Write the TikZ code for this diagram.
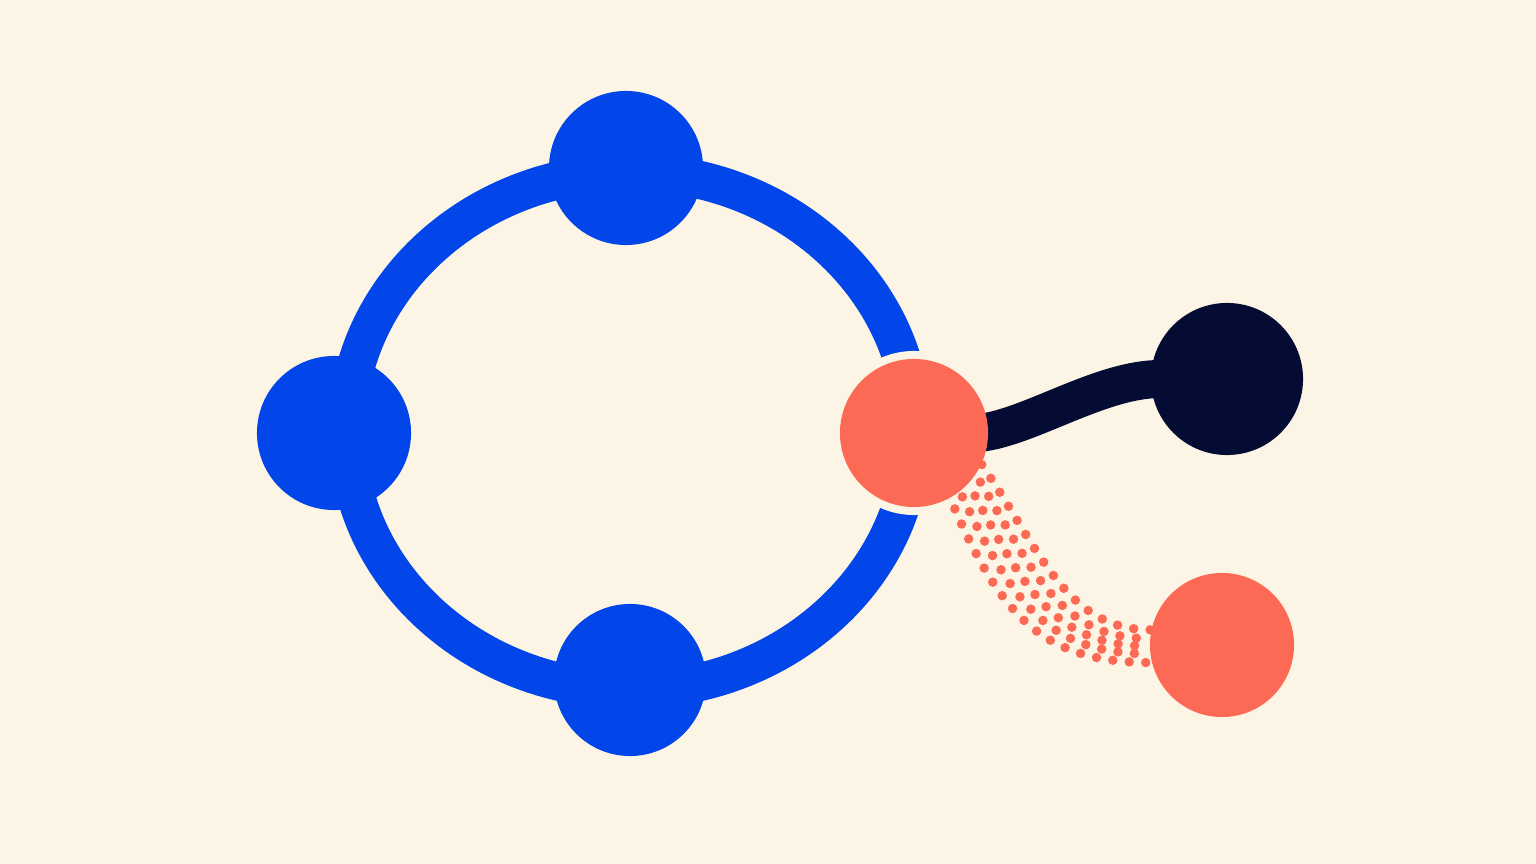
\documentclass[tikz,border=0pt]{standalone}
\usetikzlibrary{backgrounds}
\definecolor{paper}{RGB}{252,245,229}
\definecolor{ringblue}{RGB}{2,69,232}
\definecolor{coral}{RGB}{252,106,86}
\definecolor{ink}{RGB}{5,12,52}
\tikzset{
    bead/.style={circle,inner sep=0pt,minimum size=#1},
    spill/.style={coral,line width=0.095cm,line cap=round,dash pattern=on 0pt off 0.165cm}
}
\begin{document}
\begin{tikzpicture}[x=0.01cm,y=-0.01cm]
    % Beads
    \node[bead=1.54cm,fill=ringblue] (ntop) at (626,168) {};
    \node[bead=1.54cm,fill=ringblue] (nleft) at (334,433) {};
    \node[bead=1.52cm,fill=ringblue] (nbottom) at (630,680) {};
    \node[bead=1.48cm,fill=coral] (nred) at (914,433) {};
    \node[bead=1.52cm,fill=ink] (nnavy) at (1227,379) {};
    \node[bead=1.44cm,fill=coral] (nspill) at (1222,645) {};
    \begin{pgfonlayer}{background}
        \fill[paper] (0,0) rectangle (1536,864);
        % Ring
        \draw[ringblue,line width=0.38cm] (630,431) ellipse [x radius=283,y radius=259];
        % Halo round the red bead
        \fill[paper] (nred.center) circle (0.82cm);
        % Spill dots
        \foreach \a/\b/\u/\c/\e/\p in {-25/168/58/85/-85/0cm,-34/175/56/93/-92/0.08cm,
                -43/181/54/101/-98/0.03cm,-52/187/52/109/-104/0.11cm,-61/194/50/117/-110/0.05cm}
            \draw[spill,dash phase=\p] (nred.\a) .. controls +(\u,\c) and +(\e,0) .. (nspill.\b);
        % Link
        \draw[ink,line width=0.38cm] ([xshift=-0.1cm]nred.east) .. controls +(50,-5) and +(-60,0) .. ([xshift=0.1cm]nnavy.west);
    \end{pgfonlayer}
\end{tikzpicture}
\end{document}
